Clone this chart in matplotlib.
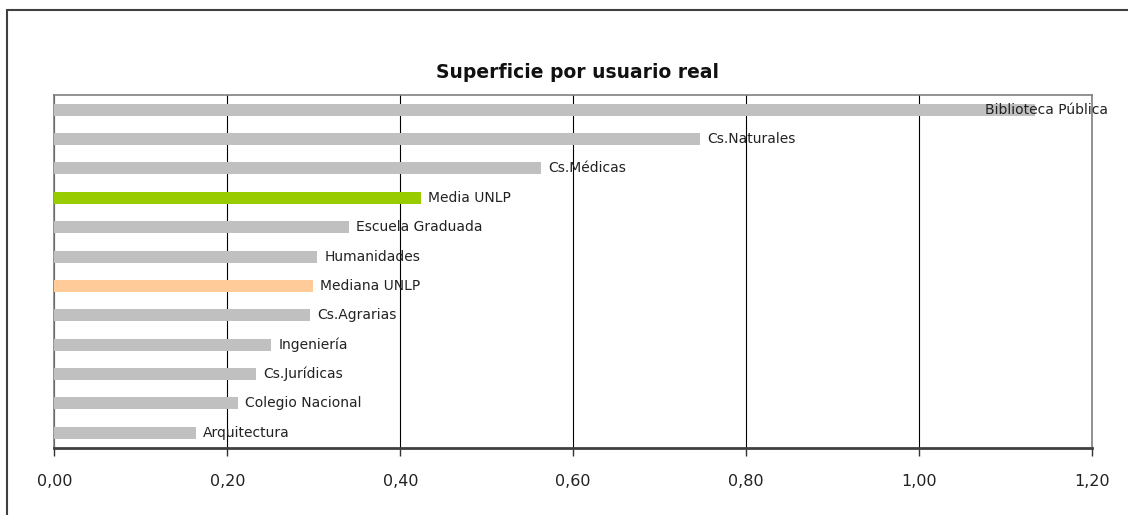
import matplotlib
matplotlib.use("Agg")
import matplotlib.pyplot as plt
from matplotlib.patches import Rectangle

categories = ["Arquitectura", "Colegio Nacional", "Cs.Jurídicas", "Ingeniería",
              "Cs.Agrarias", "Mediana UNLP", "Humanidades", "Escuela Graduada",
              "Media UNLP", "Cs.Médicas", "Cs.Naturales", "Biblioteca Pública"]
values = [0.164, 0.212, 0.233, 0.251, 0.296, 0.299, 0.304, 0.341, 0.424, 0.563, 0.747, 1.134]
colors = ["#C0C0C0", "#C0C0C0", "#C0C0C0", "#C0C0C0", "#C0C0C0", "#FFCC99",
          "#C0C0C0", "#C0C0C0", "#99CC00", "#C0C0C0", "#C0C0C0", "#C0C0C0"]
xticks = [0.0, 0.2, 0.4, 0.6, 0.8, 1.0, 1.2]
xtick_labels = ["0,00", "0,20", "0,40", "0,60", "0,80", "1,00", "1,20"]
title = "Superficie por usuario real"

fig = plt.figure(figsize=(11.28, 5.15), dpi=100)
ax = fig.add_axes([0.0483, 0.131, 0.968 - 0.0483, 0.8155 - 0.131])

y = list(range(len(categories)))
ax.barh(y, values, height=0.41, color=colors, zorder=3)
ax.set_ylim(-0.5, len(categories) - 0.5)
ax.set_xlim(0, 1.2)
ax.set_yticks([])
ax.set_xticks(xticks)
ax.set_xticklabels(xtick_labels, fontsize=11.5, color="#222222")
ax.tick_params(axis="x", direction="out", length=6, width=1, color="#333333", pad=13)
ax.grid(axis="x", color="black", lw=0.8, zorder=1)
ax.set_axisbelow(True)

for s in ["left", "top", "right"]:
    ax.spines[s].set_color("#808080")
    ax.spines[s].set_linewidth(1.2)
ax.spines["bottom"].set_color("#404040")
ax.spines["bottom"].set_linewidth(2)

for yi, v, name in zip(y, values, categories):
    xpos = v + 0.008
    if xpos > 1.06:
        xpos = 1.076
    ax.text(xpos, yi, name, va="center", ha="left", fontsize=10,
            color="#222222", zorder=4, clip_on=False)

fig.text(0.512, 0.86, title, ha="center", va="center", fontsize=13.5,
         fontweight="bold", color="#111111")

fig.patches.append(Rectangle((7 / 1128, -0.05), 1.2, 1 - 10 / 515 + 0.05,
                             transform=fig.transFigure, fill=False,
                             edgecolor="#404040", lw=1.5))

fig.savefig("out.png", dpi=100)
